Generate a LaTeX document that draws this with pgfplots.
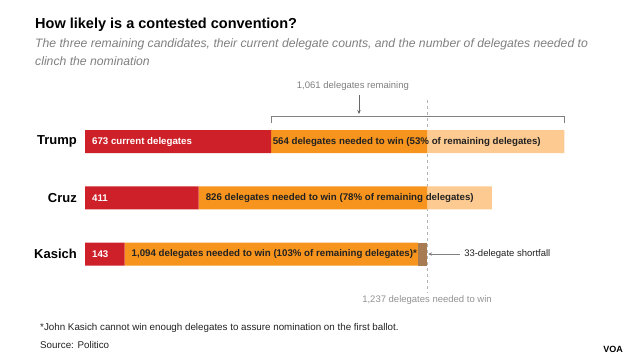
\documentclass[border=0pt]{standalone}
\usepackage{pgfplots}
\pgfplotsset{compat=1.18}
\usepackage{fontspec}
\setmainfont{Liberation Sans}
\usetikzlibrary{arrows.meta}
\definecolor{cred}{RGB}{206,32,40}
\definecolor{corange}{RGB}{247,148,29}
\definecolor{clight}{RGB}{253,203,145}
\definecolor{cbrown}{RGB}{168,124,82}
\definecolor{cgray}{RGB}{128,128,128}
\definecolor{cdark}{RGB}{34,34,34}
\tikzset{bl/.style={anchor=west, inner sep=0pt, font=\fontsize{9.7}{11}\selectfont\bfseries}}
\begin{document}
\begin{tikzpicture}
\useasboundingbox[fill=white] (0pt,0pt) rectangle (640pt,-360pt);
% title block
\node[anchor=base west, inner sep=0pt, font=\fontsize{14.5}{18}\selectfont\bfseries, text=black] at (35pt,-28pt) {How likely is a contested convention?};
\node[anchor=base west, inner sep=0pt, font=\fontsize{12.2}{15}\selectfont\itshape, text=cgray] at (35pt,-47pt) {The three remaining candidates, their current delegate counts, and the number of delegates needed to};
\node[anchor=base west, inner sep=0pt, font=\fontsize{12.2}{15}\selectfont\itshape, text=cgray] at (35pt,-65pt) {clinch the nomination};
% footnotes
\node[anchor=base west, inner sep=0pt, font=\fontsize{9.8}{11}\selectfont, text=cdark] at (40pt,-330.5pt) {*John Kasich cannot win enough delegates to assure nomination on the first ballot.};
\node[anchor=base west, inner sep=0pt, font=\fontsize{9.8}{11}\selectfont, text=cdark] at (40pt,-348.5pt) {Source: Politico};
\node[anchor=base, inner sep=0pt, font=\fontsize{9}{10}\selectfont\bfseries, text=black] at (613pt,-352pt) {VOA};
\begin{axis}[
  at={(85pt,-113.4pt)}, anchor=north west,
  scale only axis, width=552.96pt, height=168.75pt,
  xmin=0, xmax=2000, ymin=-0.5, ymax=2.5, y dir=reverse,
  axis lines=none, xtick=\empty, ytick=\empty,
  xbar stacked, bar width=23pt, clip=false,
  every axis plot/.append style={draw=none},
]
\addplot[fill=cred] coordinates {(673,0) (411,1) (143,2)};
\addplot[fill=corange] coordinates {(564,0) (826,1) (1061,2)};
\addplot[fill=clight] coordinates {(497,0) (235,1) (0,2)};
\addplot[fill=cbrown] coordinates {(0,0) (0,1) (33,2)};
% dashed line at 1237
\draw[cgray!60, dashed, line width=0.5pt] (axis cs:1237,-0.738) -- (axis cs:1237,2.676);
% bracket for remaining
\draw[cgray, line width=0.7pt] (axis cs:673,-0.329) -- (axis cs:673,-0.453) -- (axis cs:1734,-0.453) -- (axis cs:1734,-0.329);
\draw[cgray!80!black, line width=0.6pt, -{Stealth[length=4pt,width=3.5pt]}] (axis cs:991,-0.827) -- (axis cs:991,-0.49);
\node[font=\fontsize{9.5}{11}\selectfont, text=cgray] at (axis cs:969,-0.987) {1,061 delegates remaining};
% shortfall
\draw[cgray, line width=0.6pt, -{Stealth[length=4pt,width=3.5pt]}] (axis cs:1356,2) -- (axis cs:1241,2);
\node[anchor=west, font=\fontsize{9.5}{11}\selectfont, text=cdark, inner sep=0pt] at (axis cs:1371,2) {33-delegate shortfall};
\node[font=\fontsize{9.5}{11}\selectfont, text=cgray!85] at (axis cs:1237,2.818) {1,237 delegates needed to win};
% anchor coordinates for labels
\coordinate (r0) at (axis cs:0,0);
\coordinate (r1) at (axis cs:0,1);
\coordinate (r2) at (axis cs:0,2);
\coordinate (o0) at (axis cs:673,0);
\coordinate (o1) at (axis cs:411,1);
\coordinate (o2) at (axis cs:143,2);
\end{axis}
% candidate names
\node[anchor=east, inner sep=0pt, font=\fontsize{13}{15}\selectfont\bfseries] at ([xshift=-8pt]r0) {Trump};
\node[anchor=east, inner sep=0pt, font=\fontsize{13}{15}\selectfont\bfseries] at ([xshift=-8pt]r1) {Cruz};
\node[anchor=east, inner sep=0pt, font=\fontsize{13}{15}\selectfont\bfseries] at ([xshift=-8pt]r2) {Kasich};
% bar labels
\node[bl, text=white] at ([xshift=7pt]r0) {673 current delegates};
\node[bl, text=white] at ([xshift=7pt]r1) {411};
\node[bl, text=white] at ([xshift=7pt]r2) {143};
\node[bl, text=cdark] at ([xshift=1.5pt]o0) {564 delegates needed to win (53\% of remaining delegates)};
\node[bl, text=cdark] at ([xshift=7pt]o1) {826 delegates needed to win (78\% of remaining delegates)};
\node[bl, text=cdark] at ([xshift=7pt]o2) {1,094 delegates needed to win (103\% of remaining delegates)*};
\end{tikzpicture}
\end{document}
